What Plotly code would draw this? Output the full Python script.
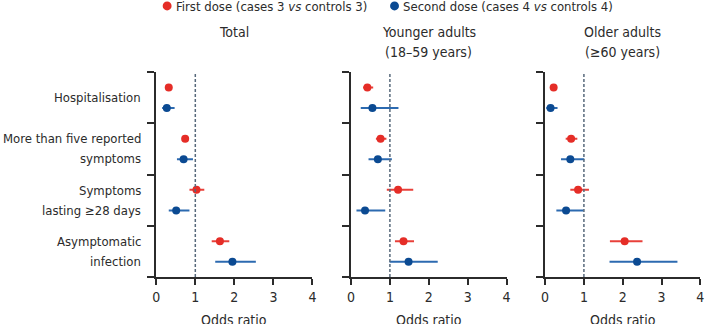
import plotly.graph_objects as go

# Outcomes, listed top to bottom
outcomes = ["Hospitalisation", "More than five reported<br>symptoms",
            "Symptoms<br>lasting ≥28 days", "Asymptomatic<br>infection"]

panel_titles = ["Total", "Younger adults<br>(18–59 years)", "Older adults<br>(≥60 years)"]

# Odds ratios with 95% CI: first dose
first_or = [[0.32, 0.74, 1.03, 1.63],
            [0.42, 0.76, 1.21, 1.35],
            [0.22, 0.67, 0.85, 2.05]]
first_lo = [[0.26, 0.66, 0.85, 1.42],
            [0.31, 0.64, 0.92, 1.13],
            [0.18, 0.53, 0.65, 1.67]]
first_hi = [[0.39, 0.83, 1.23, 1.87],
            [0.57, 0.91, 1.60, 1.62],
            [0.27, 0.83, 1.13, 2.51]]

# Odds ratios with 95% CI: second dose
second_or = [[0.27, 0.70, 0.51, 1.95],
             [0.55, 0.69, 0.36, 1.48],
             [0.14, 0.65, 0.54, 2.37]]
second_lo = [[0.15, 0.53, 0.32, 1.51],
             [0.25, 0.45, 0.14, 0.99],
             [0.03, 0.41, 0.29, 1.66]]
second_hi = [[0.47, 0.94, 0.85, 2.55],
             [1.22, 1.05, 0.88, 2.23],
             [0.32, 1.01, 0.99, 3.41]]

x_ticks = [0, 1, 2, 3, 4]
reference_or = 1

RED, RED_BAR = "#e52d27", "#e8403a"
BLUE, BLUE_BAR = "#0b4a92", "#2c6ab0"
AXIS = "#2b2b2b"
TEXT = "#2b2b2b"
FONT = "Liberation Sans Narrow, DejaVu Sans Condensed, Roboto, sans-serif"

W, H = 707, 324
PLOT_TOP, PLOT_BOT = 72, 276.7
domains = [(154, 312), (351, 508.3), (547.3, 704.3)]


def py(p):
    """Pixel row -> paper y."""
    return (PLOT_BOT - p) / (PLOT_BOT - PLOT_TOP)


fig = go.Figure()
n = len(outcomes)
y_first = [i + 0.3 for i in range(n)]
y_second = [i + 0.7 for i in range(n)]

for k in range(3):
    ax = "" if k == 0 else str(k + 1)
    xr, yr = "x" + ax, "y" + ax
    fig.add_trace(go.Scatter(
        x=first_or[k], y=y_first, mode="markers", xaxis=xr, yaxis=yr,
        marker=dict(color=RED, size=8),
        error_x=dict(type="data", symmetric=False,
                     array=[h - o for h, o in zip(first_hi[k], first_or[k])],
                     arrayminus=[o - l for o, l in zip(first_or[k], first_lo[k])],
                     color=RED_BAR, thickness=2, width=0),
        showlegend=False, hoverinfo="x"))
    fig.add_trace(go.Scatter(
        x=second_or[k], y=y_second, mode="markers", xaxis=xr, yaxis=yr,
        marker=dict(color=BLUE, size=8),
        error_x=dict(type="data", symmetric=False,
                     array=[h - o for h, o in zip(second_hi[k], second_or[k])],
                     arrayminus=[o - l for o, l in zip(second_or[k], second_lo[k])],
                     color=BLUE_BAR, thickness=2, width=0),
        showlegend=False, hoverinfo="x"))

    d0, d1 = domains[k]
    fig.update_layout(**{
        "xaxis" + ax: dict(domain=[d0 / W, d1 / W], range=[0, 4], tickvals=x_ticks,
                           showline=True, linecolor=AXIS, linewidth=2,
                           ticks="outside", ticklen=6, tickwidth=1.5, tickcolor=AXIS,
                           showgrid=False, zeroline=False,
                           tickfont=dict(size=14, color=TEXT, family=FONT),
                           anchor=yr),
        "yaxis" + ax: dict(domain=[0, 1], range=[n, 0], tickvals=list(range(n + 1)),
                           showticklabels=False, showline=True, linecolor=AXIS,
                           linewidth=2, ticks="outside", ticklen=7, tickwidth=2,
                           tickcolor=AXIS, showgrid=False, zeroline=False,
                           anchor=xr),
    })

    # reference line at OR = 1
    fig.add_shape(type="line", xref=xr, yref=yr + " domain",
                  x0=reference_or, x1=reference_or, y0=0, y1=1,
                  line=dict(color="#56687a", width=1.5, dash="3px,2px"))

    cx = (d0 + d1) / 2 / W
    # panel title, one line per annotation
    for j, line in enumerate(panel_titles[k].split("<br>")):
        fig.add_annotation(x=cx, y=py(32 + 20 * j), xref="paper", yref="paper",
                           text=line, showarrow=False, xanchor="center",
                           yanchor="middle",
                           font=dict(size=14, color=TEXT, family=FONT))
    # x-axis title
    fig.add_annotation(x=cx, y=py(319.5), xref="paper", yref="paper",
                       text="Odds ratio", showarrow=False, xanchor="center",
                       yanchor="middle", font=dict(size=14, color=TEXT, family=FONT))

# outcome labels left of the first panel
for i, lab in enumerate(outcomes):
    lines = lab.split("<br>")
    m = len(lines)
    for j, line in enumerate(lines):
        fig.add_annotation(x=0, xref="x domain", y=i + 0.5, yref="y",
                           xshift=-13, yshift=-(j - (m - 1) / 2) * 20,
                           text=line, showarrow=False, xanchor="right",
                           yanchor="middle",
                           font=dict(size=13, color=TEXT, family=FONT))

# dose key above the panels
key = [(165, RED, "First dose (cases 3 <i>vs</i> controls 3)"),
       (395, BLUE, "Second dose (cases 4 <i>vs</i> controls 4)")]
for xc, col, txt in key:
    fig.add_shape(type="circle", xref="paper", yref="paper",
                  x0=(xc - 4.5) / W, x1=(xc + 4.5) / W,
                  y0=py(6 + 4.5), y1=py(6 - 4.5),
                  fillcolor=col, line=dict(width=0))
    fig.add_annotation(x=(xc + 7) / W, y=py(7), xref="paper", yref="paper",
                       text=txt, showarrow=False, xanchor="left", yanchor="middle",
                       font=dict(size=13, color=TEXT, family=FONT))

fig.update_layout(width=W, height=H, margin=dict(l=0, r=0, t=PLOT_TOP, b=H - PLOT_BOT),
                  plot_bgcolor="white", paper_bgcolor="white", showlegend=False)

fig.write_html("out.html")
